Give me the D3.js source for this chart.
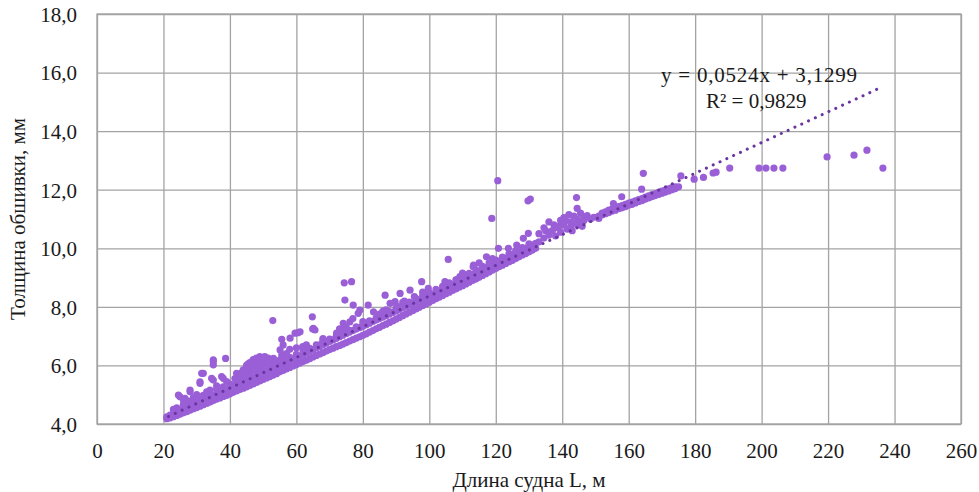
<!DOCTYPE html>
<html>
<head>
<meta charset="utf-8">
<script src="https://cdn.jsdelivr.net/npm/d3@7/dist/d3.min.js"></script>
<style>
  html, body { margin: 0; padding: 0; background: #fff; }
  svg { display: block; }
  text { font-family: "Liberation Serif", "Times New Roman", serif; fill: #1a1a1a; }
</style>
</head>
<body>
<svg id="chart" width="979" height="492"></svg>
<script>
// Hull plating thickness vs. ship length, with a linear trend line.

const xTicks = [0, 20, 40, 60, 80, 100, 120, 140, 160, 180, 200, 220, 240, 260];
const yTicks = [4, 6, 8, 10, 12, 14, 16, 18];

const xTitle = "Длина судна L, м";
const yTitle = "Толщина обшивки, мм";

// Trend line coefficients (t = a·L + b) and the fitted range of L
const trendSlope = 0.0524;
const trendIntercept = 3.1299;
const trendRange = [21.5, 236.5];
const equationText = "y = 0,0524x + 3,1299";
const r2Text = "R² = 0,9829";

// Dense band of vessels: [L, thickness, thickness, ...]
const mainBand = [
  [21, 4.18, 4.24], [22, 4.21, 4.3], [23, 4.25, 4.36], [24, 4.29, 4.42], [25, 4.34, 4.46],
  [26, 4.38, 4.52], [27, 4.42, 4.56], [28, 4.47, 4.61], [29, 4.52, 4.66], [30, 4.56, 4.72],
  [31, 4.61, 4.77], [32, 4.66, 4.83], [33, 4.7, 4.88], [34, 4.75, 4.92], [35, 4.8, 4.97],
  [36, 4.85, 5.03], [37, 4.89, 5.07], [38, 4.94, 5.12], [39, 4.98, 5.17], [40, 5.03, 5.22],
  [41, 5.08, 5.28], [42, 5.13, 5.33], [43, 5.18, 5.38], [44, 5.22, 5.43], [45, 5.27, 5.48],
  [46, 5.32, 5.53], [47, 5.37, 5.58], [48, 5.42, 5.63], [49, 5.47, 5.68], [50, 5.52, 5.74],
  [51, 5.57, 5.79], [52, 5.62, 5.84], [53, 5.67, 5.9], [54, 5.72, 5.95], [55, 5.78, 6.0],
  [56, 5.83, 6.06], [57, 5.88, 6.11], [58, 5.93, 6.16], [59, 5.98, 6.21], [60, 6.03, 6.27],
  [61, 6.08, 6.32], [62, 6.13, 6.38], [63, 6.18, 6.43], [64, 6.23, 6.49], [65, 6.29, 6.54],
  [66, 6.34, 6.6], [67, 6.39, 6.65], [68, 6.44, 6.71], [69, 6.49, 6.76], [70, 6.54, 6.82],
  [71, 6.59, 6.87], [72, 6.64, 6.92], [73, 6.68, 6.98], [74, 6.73, 7.03], [75, 6.78, 7.09],
  [76, 6.83, 7.14], [77, 6.88, 7.19], [78, 6.93, 7.24], [79, 6.98, 7.29], [80, 7.03, 7.34],
  [81, 7.08, 7.39], [82, 7.14, 7.44], [83, 7.19, 7.5], [84, 7.25, 7.55], [85, 7.3, 7.6],
  [86, 7.36, 7.65], [87, 7.41, 7.7], [88, 7.47, 7.76], [89, 7.52, 7.81], [90, 7.58, 7.86],
  [91, 7.64, 7.91], [92, 7.7, 7.97], [93, 7.76, 8.02], [94, 7.82, 8.07], [95, 7.87, 8.12],
  [96, 7.93, 8.18], [97, 7.99, 8.23], [98, 8.05, 8.28], [99, 8.1, 8.33], [100, 8.16, 8.38],
  [101, 8.22, 8.43], [102, 8.28, 8.49], [103, 8.33, 8.54], [104, 8.39, 8.59], [105, 8.45, 8.65],
  [106, 8.5, 8.7], [107, 8.56, 8.76], [108, 8.61, 8.81], [109, 8.67, 8.87], [110, 8.72, 8.92],
  [111, 8.78, 8.98], [112, 8.84, 9.04], [113, 8.9, 9.1], [114, 8.95, 9.15], [115, 9.01, 9.21],
  [116, 9.07, 9.27], [117, 9.13, 9.33], [118, 9.19, 9.39], [119, 9.25, 9.44], [120, 9.31, 9.5],
  [121, 9.37, 9.55], [122, 9.42, 9.61], [123, 9.48, 9.66], [124, 9.54, 9.72], [125, 9.59, 9.78],
  [126, 9.65, 9.83], [127, 9.71, 9.89], [128, 9.77, 9.94], [129, 9.82, 10.0], [130, 9.88, 10.06],
  [131, 9.94, 10.11], [132, 10.0, 10.17]
];

// Upper fringe of the dense band
const bandFringe = [
  [24, 4.55], [26, 4.66], [28, 4.78], [30, 4.86], [32, 4.98], [34, 5.06], [36, 5.18], [38, 5.27],
  [40, 5.36], [42, 5.48], [44, 5.58], [46, 5.66], [48, 5.78], [50, 5.88], [52, 5.97], [54, 6.08],
  [56, 6.2, 6.32], [58, 6.28], [60, 6.38], [62, 6.5, 6.6], [64, 6.58], [66, 6.7], [68, 6.8, 6.92],
  [70, 6.9], [72, 7.0], [74, 7.12, 7.22], [76, 7.2], [78, 7.32], [80, 7.4, 7.5], [82, 7.52],
  [84, 7.62], [86, 7.73, 7.85], [88, 7.84], [90, 7.95], [92, 8.05, 8.15], [94, 8.16], [96, 8.28],
  [98, 8.38, 8.5], [100, 8.48], [102, 8.6], [104, 8.7], [106, 8.82], [108, 8.92], [110, 9.02, 9.15],
  [112, 9.14], [114, 9.26], [116, 9.38], [118, 9.5], [120, 9.6], [122, 9.7], [124, 9.82],
  [126, 9.92], [128, 10.02], [130, 10.15]
];

// Group of heavier plating at L = 133…150 m
const clusterRows = [
  [133, 10.22, 10.5], [134.5, 10.35, 10.7], [135, 10.6], [136, 10.45, 10.9], [137, 10.6],
  [137.5, 10.8], [138, 10.7, 10.42], [139, 10.75], [139.5, 10.55, 10.95], [140.5, 10.8, 11.05],
  [141, 10.95], [141.5, 10.65], [142, 11.15], [142.5, 10.9, 10.72], [143, 10.6],
  [143.5, 11.1, 10.85], [144.5, 11.0, 11.36, 10.8], [145.5, 11.2, 10.9], [146, 10.75],
  [146.5, 11.08, 10.95], [147.5, 11.12], [148.5, 11.0], [149.5, 11.06]
];

// Upper band continuation, L = 151…175 m
const upperBand = [
  [151, 11.02, 11.1], [152, 11.14, 11.2], [153, 11.18, 11.24], [154, 11.22, 11.3],
  [155, 11.27, 11.34], [156, 11.3, 11.38], [157, 11.35, 11.42], [158, 11.38, 11.46],
  [159, 11.42, 11.5], [160, 11.47, 11.54], [161, 11.5, 11.58], [162, 11.55, 11.62],
  [163, 11.6, 11.66], [164, 11.63, 11.7], [165, 11.68, 11.75], [166, 11.72, 11.79],
  [167, 11.76, 11.83], [168, 11.8, 11.87], [169, 11.84, 11.91], [170, 11.88, 11.95],
  [171, 11.92, 11.99], [172, 11.96, 12.03], [173, 12.0, 12.07], [174, 12.04, 12.1], [175, 12.1]
];

// Individual vessels lying off the band: [L, thickness]
const scatterPoints = [
  [23, 4.5], [24.5, 4.99], [25, 4.93], [26, 4.82], [26.5, 4.88], [27, 4.75], [28, 5.1], [28, 5.16],
  [29, 4.9], [30, 5.0], [31, 4.93], [31, 5.39], [31, 5.44], [31.5, 5.73], [32, 5.73], [33, 5.1],
  [34, 5.16], [34.5, 5.56], [35, 5.5], [35, 6.19], [35, 6.02], [35, 6.13], [36, 5.3], [37, 5.22],
  [37.5, 5.62], [38, 5.56], [38.7, 6.24], [39, 5.45], [41, 5.33], [41.5, 5.55], [42, 5.73], [42.5, 5.45],
  [43, 5.6], [43.5, 5.75], [44, 5.85], [44, 5.55], [44.5, 5.7], [45, 5.9], [45, 6.0], [45.5, 6.05],
  [46, 5.8], [46, 6.1], [46.5, 5.95], [47, 6.2], [47, 5.85], [47.5, 6.05], [48, 6.25], [48, 5.95],
  [48.5, 6.15], [49, 6.3], [49, 6.0], [49.5, 5.9], [50, 6.2], [50, 6.05], [50.5, 6.3], [51, 6.1],
  [51.5, 6.25], [52, 5.95], [52.5, 6.15], [53.1, 6.24], [52.9, 7.53],
  [55.1, 6.53], [55.6, 6.36], [55.1, 6.19], [55.6, 6.89], [56, 6.7], [57, 6.4], [58, 6.55],
  [58.1, 6.93], [59.6, 7.1], [60, 6.6], [60.5, 7.12], [61.1, 7.15], [61.9, 6.64], [63, 6.7],
  [64.8, 7.66], [65.1, 7.27], [65.6, 7.21], [64.9, 7.24], [67.1, 6.7], [68, 6.85], [70.1, 6.87],
  [72.1, 7.1], [73, 7.25], [74.1, 7.44], [74.4, 8.82], [74.6, 8.23], [75, 7.3], [76.1, 7.49],
  [76.6, 8.86], [77, 7.6], [77.1, 8.06], [78.6, 7.78], [79.1, 7.89],
  [81.6, 8.06], [83.2, 7.83], [85, 7.75], [86.7, 8.4], [87, 7.9], [88.2, 8.12], [89.7, 8.18],
  [90.2, 8.03], [91.2, 8.46], [92.5, 8.2], [94.2, 8.57], [95.5, 8.35], [97.7, 8.86], [99.7, 8.63],
  [104.7, 8.86], [105.2, 8.8], [105.7, 9.62], [108.2, 8.92], [109.2, 9.03], [111.2, 9.03],
  [113.2, 9.37], [113.3, 9.43], [115, 9.5], [117.2, 9.71], [118.8, 11.02], [119, 9.65],
  [120.6, 12.31], [120.8, 10.0], [123.8, 10.0], [126.3, 10.11], [128.3, 10.34], [129.8, 10.51],
  [129.7, 11.62], [130.4, 11.68],
  [144.3, 11.73], [155.4, 11.53], [157.9, 11.76], [163.9, 12.02], [164.4, 12.56],
  [175.7, 12.47], [179.7, 12.36], [182.5, 12.42], [185.4, 12.57], [186.3, 12.6], [190.4, 12.74]
];

// Largest vessels
const tailPoints = [
  [199.2, 12.74], [201.3, 12.74], [203.7, 12.74], [206.4, 12.74],
  [219.7, 13.12], [227.8, 13.18], [231.7, 13.35], [236.5, 12.74]
];

const rowsToPoints = rows => rows.flatMap(([L, ...ts]) => ts.map(t => ({ L, t })));
const points = [
  ...rowsToPoints(mainBand),
  ...rowsToPoints(bandFringe),
  ...rowsToPoints(clusterRows),
  ...rowsToPoints(upperBand),
  ...scatterPoints.map(([L, t]) => ({ L, t })),
  ...tailPoints.map(([L, t]) => ({ L, t }))
];

const plot = { left: 97, right: 961, top: 14, bottom: 424 };
const x = d3.scaleLinear().domain([0, 260]).range([plot.left, plot.right]);
const y = d3.scaleLinear().domain([4, 18]).range([plot.bottom, plot.top]);

const ru = d3.formatLocale({ decimal: ",", thousands: "\u00a0", grouping: [3], currency: ["", " ₽"] });
const fmtY = ru.format(".1f");

const svg = d3.select("#chart");
const gridColor = "#a3a3a3";

// Gridlines + tick labels
const gx = svg.append("g")
  .attr("transform", `translate(0,${plot.bottom})`)
  .call(d3.axisBottom(x).tickValues(xTicks).tickSize(-(plot.bottom - plot.top)).tickPadding(19).tickFormat(d3.format("d")));
const gy = svg.append("g")
  .attr("transform", `translate(${plot.left},0)`)
  .call(d3.axisLeft(y).tickValues(yTicks).tickSize(-(plot.right - plot.left)).tickPadding(20).tickFormat(fmtY));

[gx, gy].forEach(g => {
  g.select(".domain").remove();
  g.selectAll(".tick line").attr("stroke", gridColor).attr("stroke-width", 1.3);
  g.selectAll(".tick text").attr("font-size", 21).attr("fill", "#1a1a1a")
    .attr("font-family", '"Liberation Serif", "Times New Roman", serif');
});
gy.selectAll(".tick text").attr("dy", "0.35em");

// Plot frame
svg.append("rect")
  .attr("x", plot.left).attr("y", plot.top)
  .attr("width", plot.right - plot.left).attr("height", plot.bottom - plot.top)
  .attr("fill", "none").attr("stroke", gridColor).attr("stroke-width", 1.3);

// Data points
svg.append("g")
  .selectAll("circle")
  .data(points)
  .join("circle")
  .attr("cx", d => x(d.L))
  .attr("cy", d => y(d.t))
  .attr("r", 3.6)
  .attr("fill", "#9a5fd6");

// Linear trend line (dotted)
const trend = trendRange.map(L => ({ L, t: trendSlope * L + trendIntercept }));
svg.append("path")
  .datum(trend)
  .attr("d", d3.line().x(d => x(d.L)).y(d => y(d.t)))
  .attr("fill", "none")
  .attr("stroke", "#6a35a0")
  .attr("stroke-width", 3)
  .attr("stroke-linecap", "round")
  .attr("stroke-dasharray", "0.1,7.4");

// Trend equation and R²
svg.append("text")
  .attr("x", 661).attr("y", 82)
  .attr("font-size", 21)
  .attr("textLength", 196)
  .text(equationText);
svg.append("text")
  .attr("x", 706).attr("y", 108)
  .attr("font-size", 21)
  .text(r2Text);

// Axis titles
svg.append("text")
  .attr("x", (plot.left + plot.right) / 2).attr("y", 487)
  .attr("text-anchor", "middle")
  .attr("font-size", 21)
  .text(xTitle);
svg.append("text")
  .attr("transform", `translate(25,${(plot.top + plot.bottom) / 2}) rotate(-90)`)
  .attr("text-anchor", "middle")
  .attr("font-size", 21)
  .text(yTitle);
</script>
</body>
</html>
